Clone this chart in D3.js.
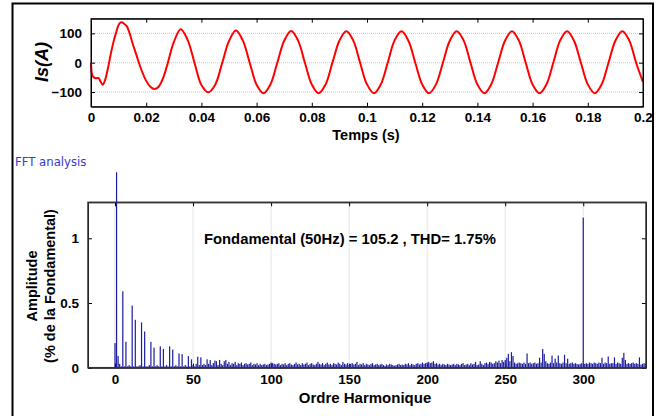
<!DOCTYPE html>
<html lang="fr">
<head>
<meta charset="utf-8">
<title>Is(A) et analyse FFT</title>
<script src="https://cdn.jsdelivr.net/npm/d3@7/dist/d3.min.js"></script>
<style>
  body { margin: 0; background: #fff; }
  svg text { font-family: "Liberation Sans", Arial, sans-serif; font-weight: bold; fill: #000; }
</style>
</head>
<body>
<svg id="fig" width="665" height="416"></svg>
<script>
// signal courant Is(A) (temps en s, valeur en A)
var tempsS = [0, 0.0004, 0.001, 0.002, 0.0027, 0.0035, 0.0042, 0.005, 0.006, 0.007, 0.008, 0.009,
  0.0102, 0.011, 0.012, 0.013, 0.014, 0.015, 0.0165, 0.018, 0.02, 0.0215, 0.023, 0.0245, 0.026, 0.0275,
  0.03, 0.0325, 0.035, 0.0375, 0.04, 0.0425, 0.045, 0.0475, 0.05, 0.0525, 0.055, 0.0575, 0.06, 0.0625,
  0.065, 0.0675, 0.07, 0.0725, 0.075, 0.0775, 0.08, 0.0825, 0.085, 0.0875, 0.09, 0.0925, 0.095, 0.0975,
  0.1, 0.1025, 0.105, 0.1075, 0.11, 0.1125, 0.115, 0.1175, 0.12, 0.1225, 0.125, 0.1275, 0.13, 0.1325,
  0.135, 0.1375, 0.14, 0.1425, 0.145, 0.1475, 0.15, 0.1525, 0.155, 0.1575, 0.16, 0.1625, 0.165, 0.1675,
  0.17, 0.1725, 0.175, 0.1775, 0.18, 0.1825, 0.185, 0.1875, 0.19, 0.1925, 0.195, 0.1975, 0.2];
var courantIs = [0, -40, -50, -53, -52, -65, -75, -62, -25, 22, 65, 100,
  132, 138, 133, 124, 100, 68, 25, -18, -62, -82, -90, -82, -55, -12,
  70, 114, 78, 0, -76, -101, -75, -2, 74, 110, 76, 0, -75, -104,
  -74, 0, 75, 108, 76, 0, -74, -104, -74, 1, 75, 107, 76, 0,
  -74, -104, -74, 0, 76, 107, 75, 0, -74, -104, -74, 0, 75, 107,
  76, 0, -74, -104, -74, 0, 75, 107, 76, 0, -74, -104, -74, 0,
  76, 107, 75, 0, -74, -104, -74, 0, 75, 107, 76, 0, -66];
var ticksTemps = [0, 0.02, 0.04, 0.06, 0.08, 0.1, 0.12, 0.14, 0.16, 0.18, 0.2];
var ticksIs = [-100, 0, 100];

// spectre FFT : amplitude par ordre harmonique 0..340 (fraction du fondamental)
var amplitudes = [
  .19,1.51,.09,.03,.01,.59,.01,.20,.01,.02,
  .01,.48,.01,.37,.01,.01,.02,.35,.01,.28,
  .01,.01,.02,.20,.01,.155,.01,.02,.01,.165,
  .01,.145,.01,.02,.01,.165,.01,.14,.01,.02,
  .01,.11,.01,.105,.01,.02,.01,.09,.01,.065,
  .02,.01,.03,.085,.02,.08,.02,.03,.02,.065,
  .03,.06,.02,.035,.055,.05,.02,.06,.03,.02,
  .05,.06,.03,.045,.02,.035,.03,.045,.02,.035,
  .03,.04,.02,.03,.035,.025,.03,.04,.02,.03,
  .025,.035,.02,.03,.02,.025,.03,.02,.025,.03,
  .04,.035,.03,.025,.03,.035,.02,.03,.025,.035,
  .02,.03,.035,.025,.02,.03,.04,.025,.03,.02,
  .035,.025,.03,.04,.02,.03,.035,.025,.02,.03,
  .045,.03,.025,.035,.02,.03,.04,.025,.03,.02,
  .035,.03,.025,.04,.03,.02,.045,.03,.025,.035,
  .02,.03,.035,.025,.03,.045,.02,.03,.025,.035,
  .02,.03,.025,.02,.03,.035,.02,.025,.03,.02,
  .025,.03,.02,.015,.025,.02,.03,.025,.02,.015,
  .02,.025,.03,.02,.025,.02,.03,.025,.035,.02,
  .03,.025,.02,.03,.035,.025,.03,.04,.03,.035,
  .04,.045,.035,.04,.05,.03,.035,.025,.03,.02,
  .03,.025,.02,.03,.025,.02,.025,.03,.02,.03,
  .025,.02,.03,.035,.02,.025,.03,.02,.035,.025,
  .03,.045,.02,.025,.05,.03,.02,.035,.04,.03,
  .045,.04,.03,.035,.05,.04,.055,.035,.06,.045,
  .06,.077,.107,.05,.12,.09,.04,.03,.035,.04,
  .035,.03,.04,.03,.11,.035,.04,.03,.035,.04,
  .03,.035,.077,.04,.145,.107,.05,.035,.03,.04,
  .094,.035,.07,.04,.094,.035,.03,.04,.10,.035,
  .07,.03,.035,.04,.03,.035,.03,.025,.03,.035,
  1.16,.03,.035,.03,.04,.035,.03,.04,.035,.03,
  .04,.035,.077,.03,.04,.035,.087,.03,.035,.035,
  .08,.03,.04,.035,.03,.077,.115,.06,.03,.035,
  .03,.035,.04,.03,.035,.03,.08,.025,.03,.035,
  .03];
var ticksOrdre = [0, 50, 100, 150, 200, 250, 300];
var ticksAmp = [0, 0.5, 1];
var texteFft = "Fondamental (50Hz) = 105.2 , THD= 1.75%";

var svg = d3.select("#fig");

// cadre de la figure
svg.append("path")
  .attr("d", "M12.5,416V3.5H653V416")
  .attr("fill", "none").attr("stroke", "#000").attr("stroke-width", 2);

// ---------- graphe du haut : Is(A) ----------
var x1 = d3.scaleLinear().domain([0, 0.2]).range([91, 643]);
var y1 = d3.scaleLinear().domain([-150, 150]).range([106.7, 18.7]);

var g1 = svg.append("g");
g1.selectAll("line.grid").data(ticksIs).enter().append("line")
  .attr("x1", x1.range()[0]).attr("x2", x1.range()[1])
  .attr("y1", function(d) { return y1(d); }).attr("y2", function(d) { return y1(d); })
  .attr("stroke", "#c8c8c8").attr("stroke-width", 1).attr("stroke-dasharray", "1,1");

g1.append("g").attr("transform", "translate(0," + y1.range()[0] + ")")
  .call(d3.axisBottom(x1).tickValues(ticksTemps).tickSizeInner(-4).tickSizeOuter(0).tickPadding(6)
    .tickFormat(function(d) { return d3.format("~g")(d); }));
g1.append("g").attr("transform", "translate(0," + y1.range()[1] + ")")
  .call(d3.axisTop(x1).tickValues(ticksTemps).tickSizeInner(-4).tickSizeOuter(0).tickFormat(""));
g1.append("g").attr("transform", "translate(" + x1.range()[0] + ",0)")
  .call(d3.axisLeft(y1).tickValues(ticksIs).tickSizeInner(-4).tickSizeOuter(0).tickPadding(9));
g1.append("g").attr("transform", "translate(" + x1.range()[1] + ",0)")
  .call(d3.axisRight(y1).tickValues(ticksIs).tickSizeInner(-4).tickSizeOuter(0).tickFormat(""));

var ligne = d3.line()
  .x(function(d, i) { return x1(tempsS[i]); })
  .y(function(d) { return y1(d); })
  .curve(d3.curveCatmullRom.alpha(0.5));
g1.append("path").datum(courantIs)
  .attr("d", ligne)
  .attr("fill", "none").attr("stroke", "#ff0000").attr("stroke-width", 2);

g1.append("text").attr("x", 366).attr("y", 140).attr("text-anchor", "middle")
  .style("font-size", "14.5px").text("Temps (s)");
g1.append("text").attr("transform", "translate(48,62) rotate(-90)").attr("text-anchor", "middle")
  .style("font-size", "18px").style("font-style", "italic").text("Is(A)");

// ---------- graphe du bas : analyse FFT ----------
svg.append("text").attr("x", 15).attr("y", 166)
  .style("font-family", "'Liberation Sans Narrow', 'DejaVu Sans Condensed', sans-serif")
  .style("font-weight", "normal").style("font-size", "13px").style("fill", "#3a3acb")
  .text("FFT analysis");

var x2 = d3.scaleLinear().domain([-17.3, 340.2]).range([88, 646]);
var y2 = d3.scaleLinear().domain([0, 1.278]).range([367.7, 202.3]);

var g2 = svg.append("g");
g2.selectAll("line.grid").data(ticksOrdre).enter().append("line")
  .attr("x1", function(d) { return x2(d); }).attr("x2", function(d) { return x2(d); })
  .attr("y1", y2.range()[0]).attr("y2", y2.range()[1])
  .attr("stroke", "#c8c8c8").attr("stroke-width", 1).attr("stroke-dasharray", "1,1");

g2.append("g").attr("transform", "translate(0," + y2.range()[0] + ")")
  .call(d3.axisBottom(x2).tickValues(ticksOrdre).tickSizeInner(-4).tickSizeOuter(0).tickPadding(7));
g2.append("g").attr("transform", "translate(0," + y2.range()[1] + ")")
  .call(d3.axisTop(x2).tickValues(ticksOrdre).tickSizeInner(-4).tickSizeOuter(0).tickFormat(""));
g2.append("g").attr("transform", "translate(" + x2.range()[0] + ",0)")
  .call(d3.axisLeft(y2).tickValues(ticksAmp).tickSizeInner(-4).tickSizeOuter(0).tickPadding(9)
    .tickFormat(function(d) { return d3.format("~g")(d); }));
g2.append("g").attr("transform", "translate(" + x2.range()[1] + ",0)")
  .call(d3.axisRight(y2).tickValues(ticksAmp).tickSizeInner(-4).tickSizeOuter(0).tickFormat(""));

g2.selectAll("rect.barre").data(amplitudes).enter().append("rect")
  .attr("class", "barre")
  .attr("x", function(d, i) { return x2(i) - 0.6; })
  .attr("width", 1.2)
  .attr("y", function(d) { return y2(d); })
  .attr("height", function(d) { return y2(0) - y2(d); })
  .attr("fill", "#1c1ca0");

g2.append("text").attr("x", 204).attr("y", 244)
  .style("font-size", "14.8px").text(texteFft);
g2.append("text").attr("x", 365).attr("y", 403).attr("text-anchor", "middle")
  .style("font-size", "15px").text("Ordre Harmonique");
g2.append("text").attr("transform", "translate(37,286) rotate(-90)").attr("text-anchor", "middle")
  .style("font-size", "14.5px").text("Amplitude");
g2.append("text").attr("transform", "translate(55,286) rotate(-90)").attr("text-anchor", "middle")
  .style("font-size", "14.5px").text("(% de la Fondamental)");

// style des axes façon matlab
svg.selectAll(".domain").attr("stroke", "#000").attr("stroke-width", 1);
svg.selectAll(".tick line").attr("stroke", "#000");
svg.selectAll(".tick text").style("font-size", "13.5px").style("font-family", "'Liberation Sans', Arial, sans-serif").style("font-weight", "bold");
// contours des axes
g1.append("rect").attr("x", 91).attr("y", 18.7).attr("width", 552).attr("height", 88)
  .attr("fill", "none").attr("stroke", "#000");
g2.append("rect").attr("x", 88).attr("y", 202.3).attr("width", 558).attr("height", 165.4)
  .attr("fill", "none").attr("stroke", "#333").attr("stroke-width", 1.5);
</script>
</body>
</html>
